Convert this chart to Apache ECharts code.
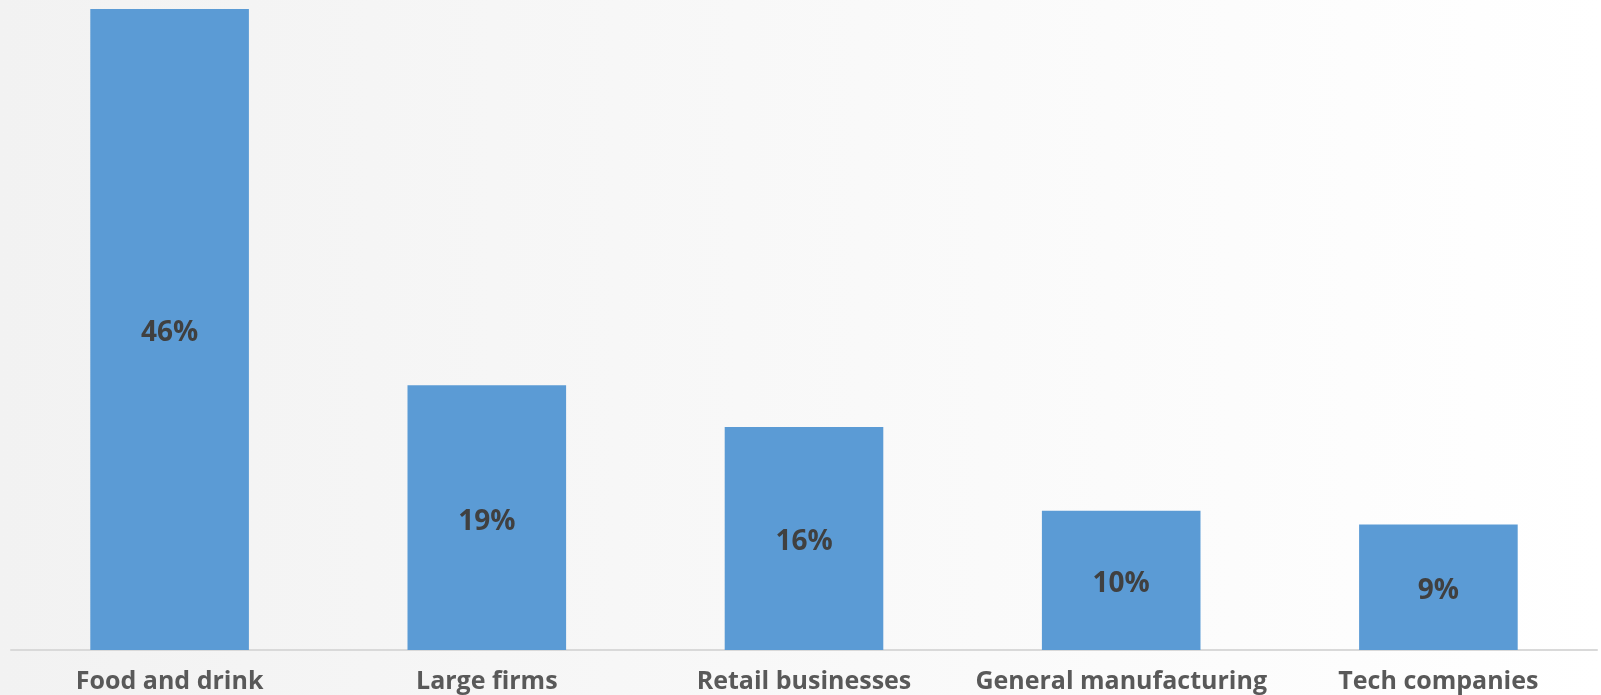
<!DOCTYPE html>
<html>
<head>
<meta charset="utf-8">
<script src="https://cdn.jsdelivr.net/npm/echarts@6/dist/echarts.min.js"></script>
<style>
  html, body { margin: 0; padding: 0; }
  body { background: linear-gradient(to right, #f2f2f2 0%, #ffffff 100%); }
  #chart { width: 1601px; height: 695px; }
</style>
</head>
<body>
<div id="chart"></div>
<script>
// Share of respondents by sector (%)
const categories = ['Food and drink', 'Large firms', 'Retail businesses', 'General manufacturing', 'Tech companies'];
const shares = [46, 19, 16, 10, 9];

const chart = echarts.init(document.getElementById('chart'), null, { renderer: 'canvas' });
chart.setOption({
  backgroundColor: 'transparent',
  animation: false,
  grid: { left: 11, right: 4, top: 9, bottom: 45, containLabel: false },
  xAxis: {
    type: 'category',
    data: categories,
    axisLine: { show: true, lineStyle: { color: '#d9d9d9', width: 2 } },
    axisTick: { show: false },
    axisLabel: {
      interval: 0,
      margin: 19,
      color: '#595959',
      fontFamily: '"Open Sans", sans-serif',
      fontWeight: 'bold',
      fontSize: 25
    }
  },
  yAxis: {
    type: 'value',
    min: 0,
    max: 46,
    show: false,
    splitLine: { show: false }
  },
  series: [{
    type: 'bar',
    data: shares,
    barWidth: '50%',
    itemStyle: { color: '#5b9bd5' },
    label: {
      show: true,
      position: 'inside',
      offset: [0, 4],
      formatter: '{c}%',
      color: '#404040',
      fontFamily: '"Open Sans", sans-serif',
      fontWeight: 'bold',
      fontSize: 28
    }
  }]
});
</script>
</body>
</html>
